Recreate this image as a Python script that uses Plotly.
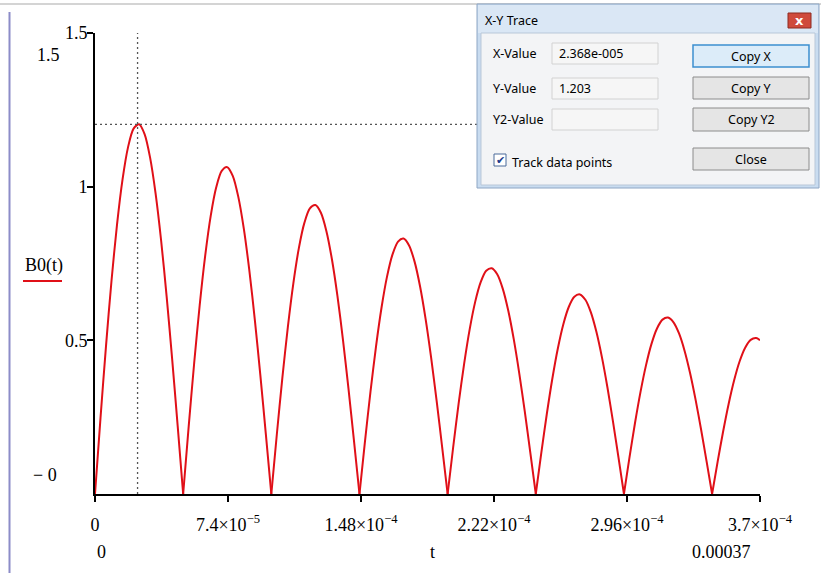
import plotly.graph_objects as go

# ---------------- data ----------------
# B0(t): each arch between two zeros, sampled every T_STEP seconds
T_STEP = 3.0656e-6
ZERO_TIMES = [0, 4.905e-5, 9.81e-5, 1.4715e-4, 1.962e-4, 2.4525e-4, 2.943e-4, 3.4335e-4]
ARCH_1 = [0, 0.2477, 0.4822, 0.6946, 0.8773, 1.0237, 1.1287, 1.1890, 1.2030, 1.1708, 1.0944, 0.9774, 0.8248, 0.6431, 0.4396, 0.2224, 0]
ARCH_2 = [0, 0.2190, 0.4262, 0.6141, 0.7755, 0.9050, 0.9978, 1.0511, 1.0635, 1.0350, 0.9675, 0.8641, 0.7292, 0.5685, 0.3886, 0.1966, 0]
ARCH_3 = [0, 0.1936, 0.3768, 0.5429, 0.6856, 0.8000, 0.8821, 0.9292, 0.9401, 0.9150, 0.8553, 0.7638, 0.6446, 0.5026, 0.3435, 0.1738, 0]
ARCH_4 = [0, 0.1711, 0.3331, 0.4799, 0.6060, 0.7072, 0.7797, 0.8214, 0.8311, 0.8088, 0.7561, 0.6752, 0.5698, 0.4443, 0.3037, 0.1536, 0]
ARCH_5 = [0, 0.1513, 0.2945, 0.4242, 0.5358, 0.6252, 0.6893, 0.7262, 0.7347, 0.7150, 0.6684, 0.5969, 0.5037, 0.3928, 0.2685, 0.1358, 0]
ARCH_6 = [0, 0.1337, 0.2603, 0.3750, 0.4736, 0.5526, 0.6093, 0.6419, 0.6494, 0.6320, 0.5908, 0.5276, 0.4453, 0.3472, 0.2373, 0.1200, 0]
ARCH_7 = [0, 0.1182, 0.2301, 0.3315, 0.4186, 0.4885, 0.5386, 0.5674, 0.5741, 0.5587, 0.5223, 0.4664, 0.3936, 0.3069, 0.2098, 0.1061, 0]
ARCH_8 = [0, 0.1045, 0.2034, 0.2931, 0.3701, 0.4319, 0.4762, 0.5016, 0.5075]
END_T = 3.7e-4
END_B = 0.5005

x_tickvals = [0, 7.4e-5, 1.48e-4, 2.22e-4, 2.96e-4, 3.7e-4]
x_ticktext = ["0", "7.4×10<sup>−5</sup>", "1.48×10<sup>−4</sup>", "2.22×10<sup>−4</sup>",
              "2.96×10<sup>−4</sup>", "3.7×10<sup>−4</sup>"]
y_tickvals = [0.5, 1, 1.5]
y_ticktext = ["0.5", "1", "1.5"]

trace_x = 2.368e-5
trace_y = 1.203

arches = [ARCH_1, ARCH_2, ARCH_3, ARCH_4, ARCH_5, ARCH_6, ARCH_7, ARCH_8]

# ---------------- layout geometry ----------------
W, H = 821, 573
ML, MR, MT, MB = 95, 61, 33, 79
PW = W - ML - MR
PH = H - MT - MB


def px(x):
    return (x - ML) / PW


def py(y):
    return (H - MB - y) / PH


SERIF = "Liberation Serif"
SANS = "Noto Sans"
RED = "#e01018"

fig = go.Figure()
for i, (t0, arch) in enumerate(zip(ZERO_TIMES, arches)):
    xs = [t0 + k * T_STEP for k in range(len(arch))]
    ys = list(arch)
    if i == len(arches) - 1:
        xs.append(END_T)
        ys.append(END_B)
    fig.add_trace(go.Scatter(x=xs, y=ys, mode="lines",
                             line=dict(color=RED, width=2, shape="spline", smoothing=0.8),
                             hoverinfo="skip", showlegend=False))

shapes = []
# page frame lines
shapes.append(dict(type="line", xref="paper", yref="paper", x0=px(0), x1=px(W), y0=py(4), y1=py(4),
                   line=dict(color="#d4d4d4", width=2), layer="above"))
shapes.append(dict(type="line", xref="paper", yref="paper", x0=px(9.5), x1=px(9.5), y0=py(12), y1=py(H),
                   line=dict(color="#8c8cc8", width=2), layer="above"))
# trace crosshair (dotted)
shapes.append(dict(type="line", xref="x", yref="y", x0=trace_x, x1=trace_x, y0=0, y1=1.5,
                   line=dict(color="#555555", width=1.3, dash="2px,3px"), layer="above"))
shapes.append(dict(type="line", xref="x", yref="y", x0=0, x1=END_T, y0=trace_y, y1=trace_y,
                   line=dict(color="#555555", width=1.3, dash="2px,3px"), layer="above"))
# B0(t) legend line
shapes.append(dict(type="line", xref="paper", yref="paper", x0=px(23), x1=px(62), y0=py(281), y1=py(281),
                   line=dict(color=RED, width=2), layer="above"))


def rect(x0, y0, x1, y1, fill, line="rgba(0,0,0,0)", lw=1):
    shapes.append(dict(type="rect", xref="paper", yref="paper", x0=px(x0), x1=px(x1), y0=py(y0), y1=py(y1),
                       fillcolor=fill, line=dict(color=line, width=lw), layer="above"))


# dialog window
rect(477, 4, 819, 188, "#c9dcf0", "#8ea6c4", 1)
rect(478, 5, 818, 33, "#dae7f5")
rect(481, 33, 815, 185, "#f3f4f6", "#b9c7d8", 1)
# close button
rect(788, 13, 811, 28, "#cf4a3c", "#8e2a20", 1)
# text boxes
rect(552, 43, 658, 64, "#f6f6f6", "#d2d2d2", 1)
rect(552, 78, 658, 99, "#f6f6f6", "#d2d2d2", 1)
rect(552, 109, 658, 130, "#f6f6f6", "#d2d2d2", 1)
# buttons
rect(693, 45, 809, 67, "#dcecf9", "#3c8fd0", 1.5)
rect(693, 77, 809, 99, "#e5e5e5", "#8c8c8c", 1)
rect(693, 108, 809, 131, "#e5e5e5", "#8c8c8c", 1)
rect(693, 148, 809, 170, "#e5e5e5", "#8c8c8c", 1)
# checkbox
rect(494, 154, 506, 166, "#ffffff", "#4a6a9a", 1)

ann = []


def text(x, y, s, size=12, font=SANS, color="#000000", xanchor="left", bold=False):
    if bold:
        s = "<b>" + s + "</b>"
    ann.append(dict(xref="paper", yref="paper", x=px(x), y=py(y), text=s, showarrow=False,
                    xanchor=xanchor, yanchor="middle", font=dict(family=font, size=size, color=color)))


# chart texts
text(48, 55, "1.5", 18, SERIF, xanchor="center")
text(45, 475, "− 0", 18, SERIF, xanchor="center")
text(44, 265, "B0(t)", 18, SERIF, xanchor="center")
text(101, 552, "0", 18, SERIF, xanchor="center")
text(432, 552, "t", 18, SERIF, xanchor="center")
text(721, 552, "0.00037", 18, SERIF, xanchor="center")

# dialog texts
text(483, 20, "X-Y Trace", 12.5)
text(799.5, 20, "x", 13, "DejaVu Sans", "#ffffff", "center", bold=True)
text(491, 54, "X-Value", 12.5)
text(491, 88, "Y-Value", 12.5)
text(491, 119, "Y2-Value", 12.5)
text(557, 54, "2.368e-005", 12.5)
text(557, 88, "1.203", 12.5)
text(500, 160, "✔", 11, "DejaVu Sans", "#1d3c8c", "center")
text(510, 162, "Track data points", 12.5)
text(751, 57, "Copy X", 12.5, xanchor="center")
text(751, 89, "Copy Y", 12.5, xanchor="center")
text(751, 120, "Copy Y2", 12.5, xanchor="center")
text(751, 159, "Close", 12.5, xanchor="center")

axis_common = dict(showline=True, linecolor="#000000", linewidth=2, ticks="outside", ticklen=6,
                   tickwidth=2, tickcolor="#000000", showgrid=False, zeroline=False,
                   tickfont=dict(family=SERIF, size=18, color="#000000"), mirror=False, fixedrange=True)

fig.update_layout(
    width=W, height=H,
    margin=dict(l=ML, r=MR, t=MT, b=MB, pad=0),
    paper_bgcolor="#ffffff", plot_bgcolor="#ffffff",
    xaxis=dict(range=[0, END_T], tickvals=x_tickvals, ticktext=x_ticktext,
               ticklabelstandoff=7, **axis_common),
    yaxis=dict(range=[0, 1.5], tickvals=y_tickvals, ticktext=y_ticktext,
               ticklabelstandoff=-4, **axis_common),
    shapes=shapes, annotations=ann, showlegend=False,
)

fig.write_html("out.html", config={"displayModeBar": False})
